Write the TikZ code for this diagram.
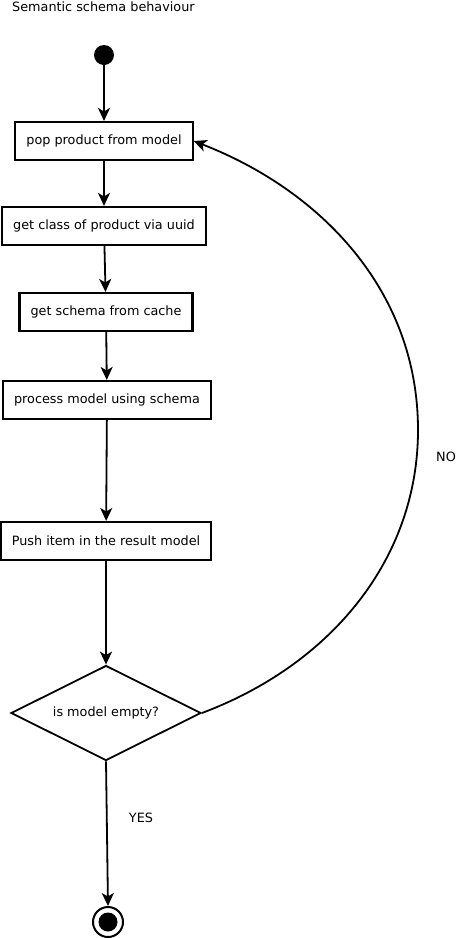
\documentclass[tikz,border=0pt]{standalone}
\usepackage{fontspec}
\setmainfont{DejaVu Sans}
\usetikzlibrary{shapes.geometric,arrows.meta}

\tikzset{
  actbox/.style={draw,line width=2.1pt,minimum height=38pt,inner xsep=11pt,font=\fontsize{12.8}{14}\selectfont},
  choice/.style={draw,diamond,line width=1.8pt,aspect=2,minimum width=190pt,minimum height=95pt,inner sep=0pt,font=\fontsize{12.8}{14}\selectfont},
  flow/.style={line width=1.8pt,-{Stealth[length=13pt,width=12pt,inset=3.5pt]}},
  lbl/.style={font=\fontsize{12.8}{14}\selectfont,inner sep=0pt}
}

\begin{document}
\begin{tikzpicture}[x=1pt,y=-1pt]
        \useasboundingbox (0,0) rectangle (456,938);

        % Title
        \node[lbl,anchor=west] (title) at (12,7) {Semantic schema behaviour};

        % Start and end
        \node[circle,fill=black,minimum size=20pt,inner sep=0pt] (start) at (104,55) {};
        \node[circle,draw,line width=2pt,minimum size=30pt,inner sep=0pt] (stop) at (108,922) {};
        \node[circle,fill=black,minimum size=19pt,inner sep=0pt] (stopdot) at (stop) {};

        % Activity boxes
        \node[actbox] (pop) at (104,141) {pop product from model};
        \node[actbox] (cls) at (104,226) {get class of product via uuid};
        \node[actbox] (schema) at (106,312) {get schema from cache};
        \node[actbox] (process) at (107,400) {process model using schema};
        \node[actbox] (push) at (106,541) {Push item in the result model};
        \node[choice] (empty) at (106,713) {is model empty?};

        % Arrows
        \draw[flow] (start) -- (pop);
        \draw[flow] (pop) -- (cls);
        \draw[flow] (cls) -- (schema);
        \draw[flow] (schema) -- (process);
        \draw[flow] (process) -- (push);
        \draw[flow] (push) -- (empty);
        \draw[flow] (empty.south) -- (stop.north);

        % Loop back
        \coordinate (loop) at (418,430);
        \draw[flow] (empty.east) .. controls (330,665) and (418,560) .. (loop)
          .. controls (418,290) and (320,190) .. (pop.east);

        % Labels
        \node[lbl] (yes) at (141,818) {YES};
        \node[lbl] (no) at (446,457) {NO};
    \end{tikzpicture}
\end{document}
